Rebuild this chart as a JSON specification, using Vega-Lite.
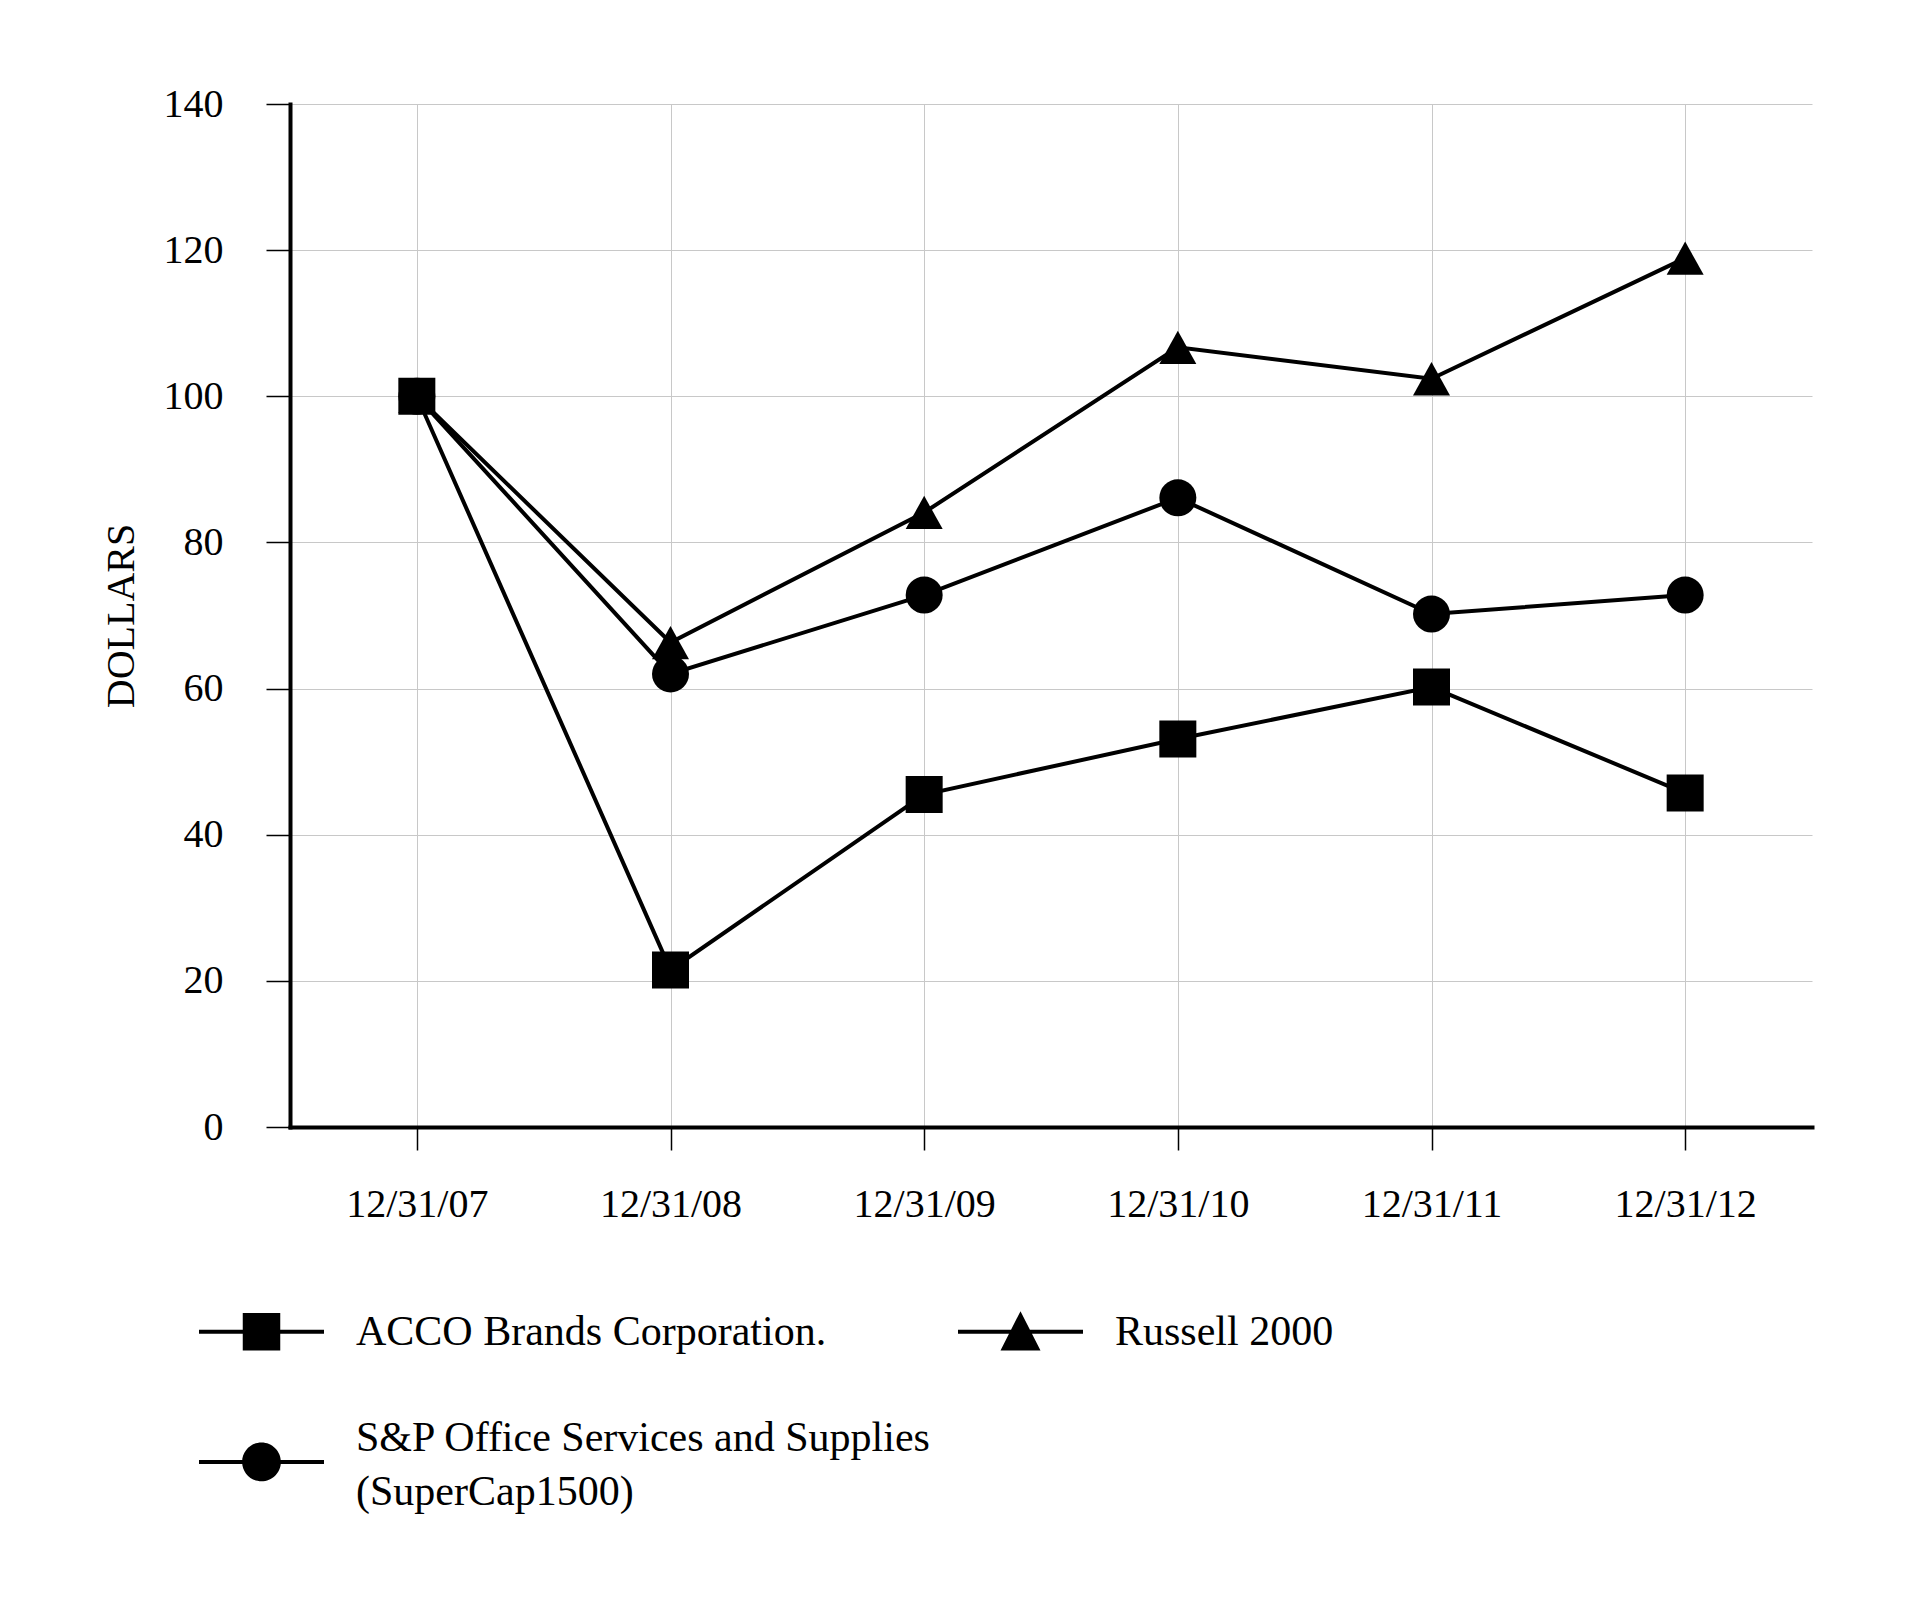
{
  "$schema": "https://vega.github.io/schema/vega-lite/v6.json",
  "width": 1522,
  "height": 1023,
  "autosize": {"type": "none"},
  "padding": {"left": 290, "top": 104, "right": 104, "bottom": 477},
  "background": "white",
  "config": {
    "view": {"stroke": null},
    "font": "Liberation Serif",
    "style": {"guide-label": {"lineHeight": 54}}
  },
  "data": {
    "values": [
      {"date": "12/31/07", "series": "ACCO Brands Corporation.", "value": 100},
      {"date": "12/31/08", "series": "ACCO Brands Corporation.", "value": 21.5},
      {"date": "12/31/09", "series": "ACCO Brands Corporation.", "value": 45.5},
      {"date": "12/31/10", "series": "ACCO Brands Corporation.", "value": 53.1},
      {"date": "12/31/11", "series": "ACCO Brands Corporation.", "value": 60.2},
      {"date": "12/31/12", "series": "ACCO Brands Corporation.", "value": 45.7},
      {"date": "12/31/07", "series": "Russell 2000", "value": 100},
      {"date": "12/31/08", "series": "Russell 2000", "value": 66.3},
      {"date": "12/31/09", "series": "Russell 2000", "value": 84.1},
      {"date": "12/31/10", "series": "Russell 2000", "value": 106.7},
      {"date": "12/31/11", "series": "Russell 2000", "value": 102.4},
      {"date": "12/31/12", "series": "Russell 2000", "value": 118.9},
      {"date": "12/31/07", "series": "S&P Office Services and Supplies (SuperCap1500)", "value": 100},
      {"date": "12/31/08", "series": "S&P Office Services and Supplies (SuperCap1500)", "value": 62.0},
      {"date": "12/31/09", "series": "S&P Office Services and Supplies (SuperCap1500)", "value": 72.8},
      {"date": "12/31/10", "series": "S&P Office Services and Supplies (SuperCap1500)", "value": 86.1},
      {"date": "12/31/11", "series": "S&P Office Services and Supplies (SuperCap1500)", "value": 70.2},
      {"date": "12/31/12", "series": "S&P Office Services and Supplies (SuperCap1500)", "value": 72.8}
    ]
  },
  "encoding": {
    "x": {
      "field": "date",
      "type": "ordinal",
      "sort": ["12/31/07", "12/31/08", "12/31/09", "12/31/10", "12/31/11", "12/31/12"],
      "scale": {"type": "point", "padding": 0.5},
      "axis": {
        "title": null,
        "labelAngle": 0,
        "labelFontSize": 40,
        "labelColor": "black",
        "labelBaseline": "alphabetic",
        "labelPadding": 66,
        "tickSize": 23,
        "tickColor": "black",
        "tickWidth": 1.5,
        "domainColor": "black",
        "domainWidth": 4,
        "domainCap": "square",
        "grid": true,
        "gridColor": "#c8c8c8",
        "gridWidth": 1
      }
    },
    "y": {
      "field": "value",
      "type": "quantitative",
      "scale": {"domain": [0, 140]},
      "axis": {
        "title": "DOLLARS",
        "titleFontSize": 40,
        "titleFontWeight": "normal",
        "titleColor": "black",
        "titleX": -157,
        "titleY": 511.5,
        "titleBaseline": "alphabetic",
        "values": [0, 20, 40, 60, 80, 100, 120, 140],
        "labelFontSize": 40,
        "labelColor": "black",
        "labelPadding": 43,
        "tickSize": 24,
        "tickColor": "black",
        "tickWidth": 1.5,
        "domainColor": "black",
        "domainWidth": 4,
        "domainCap": "square",
        "grid": true,
        "gridColor": "#c8c8c8",
        "gridWidth": 1
      }
    }
  },
  "layer": [
    {
      "mark": {"type": "line", "color": "black", "strokeWidth": 4},
      "encoding": {"detail": {"field": "series", "type": "nominal"}}
    },
    {
      "mark": {"type": "point", "filled": true, "color": "black", "opacity": 1, "size": 1369},
      "encoding": {
        "shape": {
          "field": "series",
          "type": "nominal",
          "scale": {
            "domain": ["ACCO Brands Corporation.", "Russell 2000", "S&P Office Services and Supplies (SuperCap1500)"],
            "range": ["square", "M0,-0.9L1,0.9L-1,0.9Z", "circle"]
          },
          "legend": null
        }
      }
    },
    {
      "mark": {"type": "point", "filled": true, "color": "black", "opacity": 0},
      "encoding": {
        "shape": {
          "field": "series",
          "type": "nominal",
          "scale": {
            "domain": ["ACCO Brands Corporation.", "Russell 2000", "S&P Office Services and Supplies (SuperCap1500)"],
            "range": [
              "M-1,-0.032H1V0.032H-1Z M-0.3,-0.3H0.3V0.3H-0.3Z",
              "M-1,-0.032H1V0.032H-1Z M0,-0.33L0.32,0.3L-0.32,0.3Z",
              "M-1,0.358H1V0.422H-1Z M-0.31,0.39A0.31,0.31 0 1,1 0.31,0.39A0.31,0.31 0 1,1 -0.31,0.39Z"
            ]
          },
          "legend": {
            "title": null,
            "orient": "none",
            "direction": "horizontal",
            "legendX": -91,
            "legendY": 1165,
            "columns": 2,
            "padding": 0,
            "symbolSize": 15625,
            "symbolFillColor": "black",
            "symbolStrokeColor": "black",
            "symbolStrokeWidth": 0,
            "symbolOpacity": 1,
            "labelFontSize": 42,
            "labelColor": "black",
            "labelLimit": 2000,
            "labelOffset": 32,
            "columnPadding": 26,
            "rowPadding": 22,
            "labelExpr": "datum.label == 'S&P Office Services and Supplies (SuperCap1500)' ? ['S&P Office Services and Supplies', '(SuperCap1500)'] : datum.label"
          }
        }
      }
    }
  ],
  "resolve": {"scale": {"shape": "independent"}}
}
